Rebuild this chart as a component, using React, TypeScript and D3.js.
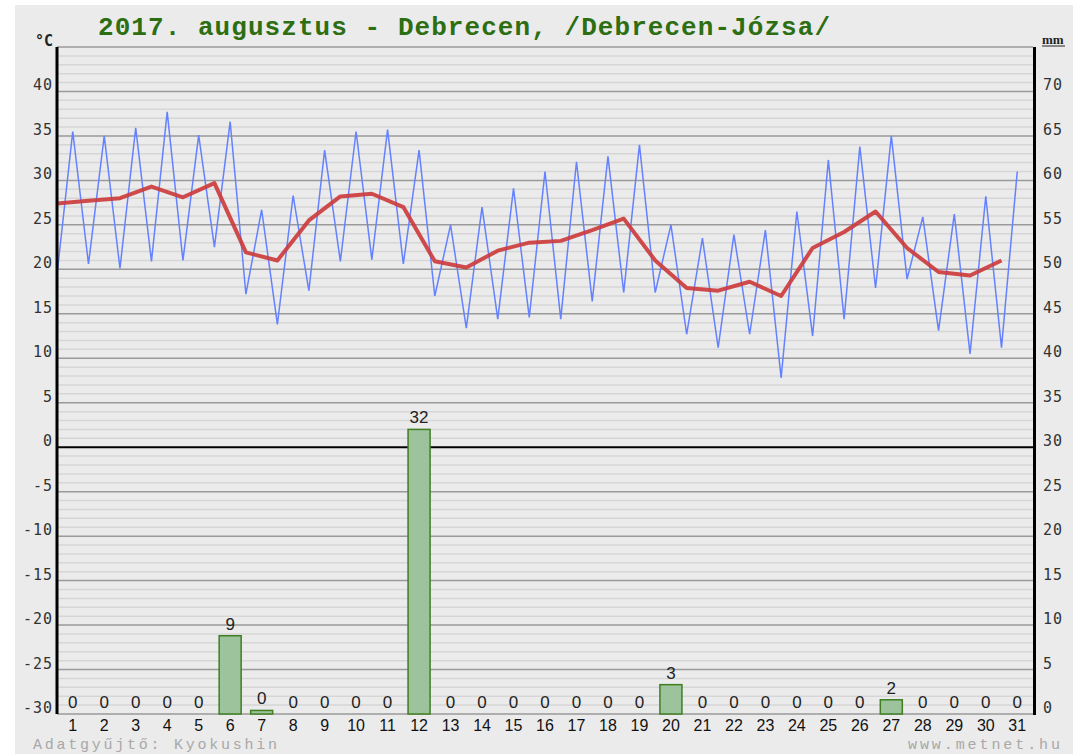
import React from 'react';
import * as d3 from 'd3';

const width = 1082;
const height = 754;
const margin = {top: 47, right: 49, bottom: 40, left: 57};

const days = [1, 2, 3, 4, 5, 6, 7, 8, 9, 10, 11, 12, 13, 14, 15, 16, 17, 18, 19, 20, 21, 22, 23, 24, 25, 26, 27, 28, 29, 30, 31];
const tMax = [35.5, 35.0, 35.9, 37.7, 35.1, 36.6, 26.7, 28.3, 33.4, 35.5, 35.7, 33.4, 25.0, 27.0, 29.1, 31.0, 32.1, 32.7, 34.0, 25.0, 23.5, 23.9, 24.4, 26.5, 32.3, 33.8, 35.0, 25.9, 26.2, 28.2, 31.0];
const tMin = [19.4, 20.6, 20.1, 20.9, 21.0, 22.5, 17.2, 13.8, 17.6, 20.9, 21.1, 20.6, 17.0, 13.4, 14.4, 14.6, 14.4, 16.4, 17.4, 17.4, 12.7, 11.2, 12.7, 7.8, 12.5, 14.4, 17.9, 18.9, 13.1, 10.5, 11.2];
const tMean = [27.4, 27.7, 28.0, 29.3, 28.1, 29.7, 21.9, 21.0, 25.5, 28.2, 28.5, 27.0, 20.9, 20.2, 22.1, 23.0, 23.2, 24.4, 25.7, 21.0, 17.9, 17.6, 18.6, 17.0, 22.4, 24.2, 26.5, 22.4, 19.7, 19.3, 21.0];
const precip = [0, 0, 0, 0, 0, 8.8, 0.4, 0, 0, 0, 0, 32.0, 0, 0, 0, 0, 0, 0, 0, 3.3, 0, 0, 0, 0, 0, 0, 1.6, 0, 0, 0, 0];
const tempTicks = [-30, -25, -20, -15, -10, -5, 0, 5, 10, 15, 20, 25, 30, 35, 40];
const mmTicks = [0, 5, 10, 15, 20, 25, 30, 35, 40, 45, 50, 55, 60, 65, 70];

const title = '2017. augusztus - Debrecen, /Debrecen-Józsa/';
const footLeft = 'Adatgyűjtő: Kyokushin';
const footRight = 'www.metnet.hu';

const green = '#2d6e12';
const blue = '#6482ff';
const red = '#cc3a3a';

export default function App() {
  const x0 = margin.left;
  const x1 = width - margin.right;
  const yTop = margin.top;
  const yBot = height - margin.bottom;

  const xScale = d3.scaleBand<number>().domain(days).range([x0, x1]).padding(0);
  const bw = xScale.bandwidth();
  const yTemp = d3.scaleLinear().domain([-30, 45]).range([yBot, yTop]);
  const yMm = d3.scaleLinear().domain([0, 75]).range([yBot, yTop]);

  // min at the start of the day, max at the middle
  const zig: [number, number][] = [];
  days.forEach((d, i) => {
    zig.push([xScale(d)!, tMin[i]]);
    zig.push([xScale(d)! + bw / 2, tMax[i]]);
  });
  const line = d3.line<[number, number]>().x(d => d[0]).y(d => yTemp(d[1]));
  const meanPts: [number, number][] = days.map((d, i) => [xScale(d)!, tMean[i]]);

  const grid = d3.range(-30, 46, 1);
  const barW = 22;
  const mono = '"DejaVu Sans Mono", monospace';
  const sans = '"Liberation Sans", Arial, sans-serif';

  return (
    <svg width={width} height={height} style={{position: 'absolute', left: 0, top: 0}}>
      <rect x={0} y={0} width={width} height={height} fill="#fff" />
      <rect x={15} y={5} width={1058} height={height - 5} fill="#ebebeb" />

      <text x={98} y={35} fill={green} fontFamily='"Liberation Mono", monospace' fontWeight="bold"
        fontSize={26} textLength={732} lengthAdjust="spacing">{title}</text>

      {grid.filter(v => v % 5 !== 0).map(v => (
        <line key={'m' + v} x1={x0} x2={x1} y1={yTemp(v)} y2={yTemp(v)} stroke="#d6d6d6" strokeWidth={1.5} />
      ))}
      {grid.filter(v => v % 5 === 0 && v !== 0).map(v => (
        <line key={'M' + v} x1={x0} x2={x1} y1={yTemp(v)} y2={yTemp(v)} stroke="#9a9a9a" strokeWidth={1.5} />
      ))}
      <line x1={x0} x2={x1} y1={yTemp(0)} y2={yTemp(0)} stroke="#000" strokeWidth={2} />

      {precip.map((p, i) => {
        const cx = xScale(days[i])! + bw / 2;
        const top = yMm(p);
        return (
          <g key={'b' + i}>
            <rect x={cx - barW / 2} y={top} width={barW} height={yMm(0) - top}
              fill="#9cc39c" stroke="#3f7f22" strokeWidth={1.5} />
            <text x={cx} y={top - 6} textAnchor="middle" fontFamily={sans} fontSize={17} fill="#222">
              {Math.round(p)}
            </text>
          </g>
        );
      })}

      <path d={line(zig) || ''} fill="none" stroke={blue} strokeWidth={1.5} />
      <path d={line(meanPts) || ''} fill="none" stroke={red} strokeWidth={4} strokeLinejoin="round" opacity={0.9} />

      <line x1={x0} x2={x0} y1={yTop} y2={yBot} stroke="#000" strokeWidth={3} />
      <line x1={x1 + 1.5} x2={x1 + 1.5} y1={yTop} y2={yBot + 1} stroke="#000" strokeWidth={3} />

      {tempTicks.map(v => (
        <text key={'l' + v} x={53} y={yTemp(v) - 1} textAnchor="end" fontFamily={mono} fontSize={15}
          letterSpacing={1} fill="#333">{v}</text>
      ))}
      {mmTicks.map(v => (
        <text key={'r' + v} x={1043} y={yMm(v) - 1} fontFamily={mono} fontSize={15}
          letterSpacing={1} fill="#333">{v}</text>
      ))}
      <text x={53} y={46} textAnchor="end" fontFamily={mono} fontWeight="bold" fontSize={15} fill="#222">°C</text>
      <text x={1042} y={44} fontFamily='"Liberation Serif", serif' fontWeight="bold" fontSize={13} fill="#222">mm</text>
      <line x1={1042} x2={1065} y1={46} y2={46} stroke="#222" strokeWidth={1} />

      {days.map(d => (
        <text key={'d' + d} x={xScale(d)! + bw / 2} y={731} textAnchor="middle" fontFamily={sans}
          fontSize={16} fill="#111">{d}</text>
      ))}

      <text x={33} y={749} fontFamily='"Liberation Mono", monospace' fontSize={15} fill="#a8a8a8"
        textLength={244} lengthAdjust="spacing">{footLeft}</text>
      <text x={908} y={749} fontFamily='"Liberation Mono", monospace' fontSize={15} fill="#a8a8a8"
        textLength={152} lengthAdjust="spacing">{footRight}</text>
    </svg>
  );
}
